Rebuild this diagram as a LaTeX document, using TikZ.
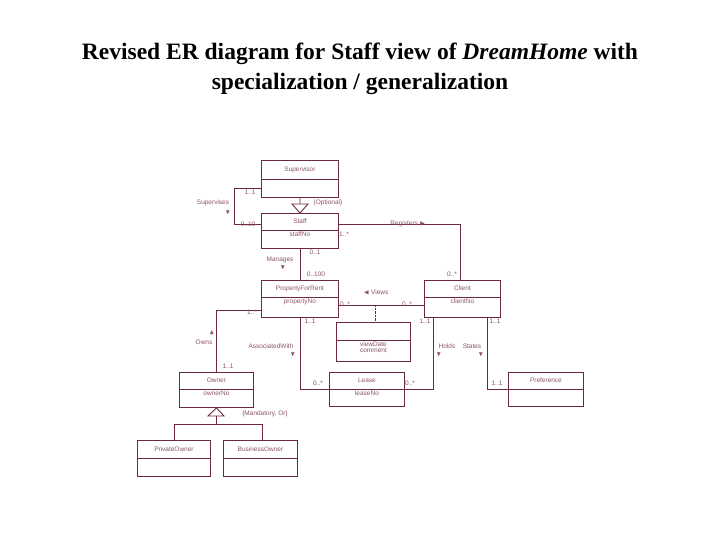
\documentclass[tikz,border=0pt]{standalone}
\usepackage{amssymb}
\usepackage{fontspec}
\setmainfont{Liberation Serif}
\newfontfamily\umlfont{Liberation Sans}
\usepackage{tikz}
\usetikzlibrary{arrows.meta}
\definecolor{uml}{RGB}{110,40,60}
\tikzset{box/.style={draw=uml, line width=0.9pt, anchor=north west, inner sep=0pt},
  lnk/.style={draw=uml, line width=0.9pt},
  lbl/.style={font=\umlfont\fontsize{6.5}{7}\selectfont, text=uml!80, inner sep=1pt},
  gen/.style={draw=uml, line width=0.9pt, fill=white}}
% entity: name, x, y, width, height, divider offset, title, attributes
\newcommand{\entity}[8]{%
  \node[box, minimum width=#4pt, minimum height=#5pt] (#1) at (#2,#3) {};
  \draw[uml, line width=0.9pt] ([yshift=-#6pt]#1.north west) -- ([yshift=-#6pt]#1.north east);
  \node[lbl] (#1-t) at ([yshift=-#6pt/2]#1.north) {#7};
  \node[lbl, align=center, anchor=north] (#1-a) at ([yshift=-#6pt-1pt]#1.north) {#8};}
\begin{document}
\begin{tikzpicture}[x=1pt, y=-1pt]
  \useasboundingbox (0,0) rectangle (720,540);
  \node[font=\fontsize{23.5}{30}\selectfont\bfseries, align=center] (title) at (360,69)
    {Revised ER diagram for Staff view of \textit{DreamHome} with\\specialization / generalization};
  % entities
  \entity{sup}{261}{160}{77}{37}{19}{Supervisor}{}
  \entity{staff}{261}{213}{77}{35}{17}{Staff}{staffNo}
  \entity{pfr}{261}{280}{77}{37}{17}{PropertyForRent}{propertyNo}
  \entity{client}{424}{280}{76}{37}{17}{Client}{clientNo}
  \entity{view}{336}{322}{74}{39}{18}{}{viewDate\\[-1pt]comment}
  \entity{owner}{179}{372}{74}{35}{17}{Owner}{ownerNo}
  \entity{lease}{329}{372}{75}{34}{17}{Lease}{leaseNo}
  \entity{pref}{508}{372}{75}{34}{17}{Preference}{}
  \entity{priv}{137}{440}{73}{36}{18}{PrivateOwner}{}
  \entity{bus}{223}{440}{74}{36}{18}{BusinessOwner}{}
  % Supervises
  \draw[lnk] (sup.west |- 0,188) -| (234,224) -- (staff.west |- 0,224);
  \node[lbl] at (250,192) {1..1};
  \node[lbl] at (248,224) {0..10};
  \node[lbl] at (213,203) {Supervises};
  \node[lbl] at (228,213) {$\blacktriangledown$};
  % Staff is-a Supervisor
  \draw[lnk] (sup.south) -- (300,204);
  \draw[gen] (300,213) -- (292,204) -- (308,204) -- cycle;
  \node[lbl] at (328,203) {\{Optional\}};
  % Registers
  \draw[lnk] (staff.east |- 0,224) -| (client.north -| 460,0);
  \node[lbl] at (408,224) {Registers $\blacktriangleright$};
  \node[lbl] at (344,234) {1..*};
  \node[lbl] at (452,274) {0..*};
  % Manages
  \draw[lnk] (staff.south) -- (pfr.north);
  \node[lbl] at (315,252) {0..1};
  \node[lbl] at (280,260) {Manages};
  \node[lbl] at (283,268) {$\blacktriangledown$};
  \node[lbl] at (316,274) {0..100};
  % Views
  \draw[lnk] (pfr.east |- 0,305) -- (client.west |- 0,305);
  \draw[uml, densely dotted] (375,305) -- (view.north -| 375,0);
  \node[lbl] at (376,292) {$\blacktriangleleft$ Views};
  \node[lbl] at (345,304) {0..*};
  \node[lbl] at (407,304) {0..*};
  % Owns
  \draw[lnk] (pfr.west |- 0,310) -| (owner.north -| 216,0);
  \node[lbl] at (252,312) {1..*};
  \node[lbl] at (212,333) {$\blacktriangle$};
  \node[lbl] at (204,342) {Owns};
  \node[lbl] at (228,366) {1..1};
  % AssociatedWith
  \draw[lnk] (pfr.south) |- (lease.west |- 0,389);
  \node[lbl] at (310,321) {1..1};
  \node[lbl] at (271,346) {AssociatedWith};
  \node[lbl] at (293,355) {$\blacktriangledown$};
  \node[lbl] at (318,383) {0..*};
  % Holds
  \draw[lnk] (client.south -| 433,0) |- (lease.east |- 0,389);
  \node[lbl] at (425,321) {1..1};
  \node[lbl] at (447,346) {Holds};
  \node[lbl] at (439,355) {$\blacktriangledown$};
  \node[lbl] at (410,383) {0..*};
  % States
  \draw[lnk] (client.south -| 487,0) |- (pref.west |- 0,389);
  \node[lbl] at (472,346) {States};
  \node[lbl] at (481,355) {$\blacktriangledown$};
  \node[lbl] at (495,321) {1..1};
  \node[lbl] at (497,383) {1..1};
  % Owner specialization
  \draw[gen] (owner.south) -- (208,416) -- (224,416) -- cycle;
  \node[lbl] at (265,414) {\{Mandatory, Or\}};
  \draw[lnk] (216,416) -- (216,424);
  \draw[lnk] (priv.north -| 174,0) |- (262,424) -- (bus.north -| 262,0);
\end{tikzpicture}
\end{document}
